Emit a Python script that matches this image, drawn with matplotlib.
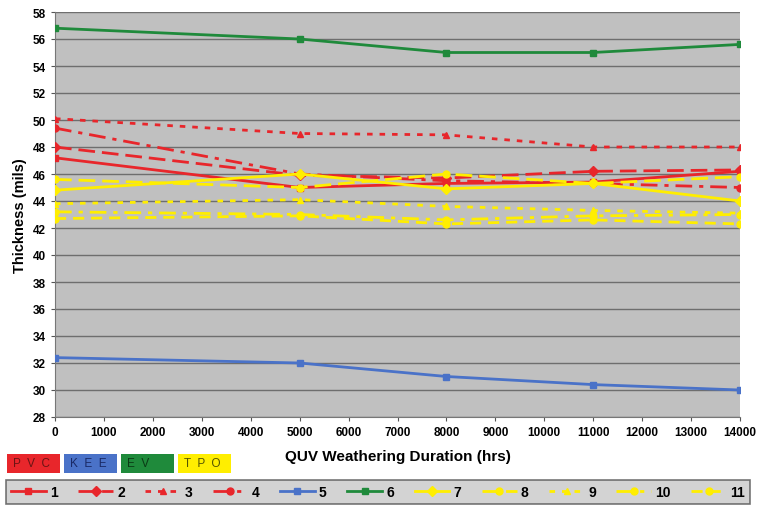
import matplotlib
matplotlib.use("Agg")
import matplotlib.pyplot as plt
from matplotlib.patches import Rectangle

plt.rcParams['font.family'] = ['Liberation Sans', 'DejaVu Sans']

hours = [0, 5000, 8000, 11000, 14000]
s1 = [47.2, 45.0, 45.3, 45.4, 46.2]
s2 = [48.0, 45.9, 45.7, 46.2, 46.3]
s3 = [50.1, 49.0, 48.9, 48.0, 48.0]
s4 = [49.4, 46.0, 45.5, 45.3, 45.0]
s5 = [32.4, 32.0, 31.0, 30.4, 30.0]
s6 = [56.8, 56.0, 55.0, 55.0, 55.6]
s7 = [44.8, 46.0, 44.9, 45.3, 44.0]
s8 = [45.6, 45.0, 46.0, 45.3, 45.8]
s9 = [43.8, 44.1, 43.6, 43.3, 43.1]
s10 = [43.2, 43.0, 42.6, 42.9, 43.0]
s11 = [42.7, 42.9, 42.3, 42.6, 42.3]
series_names = ['1', '2', '3', '4', '5', '6', '7', '8', '9', '10', '11']
material_names = ['PVC', 'KEE', 'EV', 'TPO']
xticks = list(range(0, 14001, 1000))
yticks = list(range(28, 59, 2))

RED = '#e8262b'
BLUE = '#4a72c8'
GREEN = '#1f8a3b'
YEL = '#ffee00'

styles = [
    (s1, RED, '-', 's'),
    (s2, RED, (0, (6, 2.5)), 'D'),
    (s3, RED, (0, (2, 2.5)), '^'),
    (s4, RED, (0, (6, 2.5, 1.5, 2.5)), 'o'),
    (s5, BLUE, '-', 's'),
    (s6, GREEN, '-', 's'),
    (s7, YEL, '-', 'D'),
    (s8, YEL, (0, (6, 2.5)), 'o'),
    (s9, YEL, (0, (2, 2.5)), '^'),
    (s10, YEL, (0, (6, 2.5, 1.5, 2.5)), 'o'),
    (s11, YEL, (0, (4, 2.5)), 'o'),
]

fig = plt.figure(figsize=(7.58, 5.10), dpi=100)
ax = fig.add_axes([55/758, 1 - 418/510, 685/758, 405/510])
ax.set_facecolor('#c0c0c0')
handles = []
for (vals, c, ls, m), name in zip(styles, series_names):
    h, = ax.plot(hours, vals, color=c, linestyle=ls, linewidth=2.0,
                 marker=m, markersize=5, markeredgecolor=c, markerfacecolor=c,
                 label=name, zorder=3)
    handles.append(h)

ax.set_xlim(0, 14000)
ax.set_ylim(28, 58)
ax.set_xticks(xticks)
ax.set_yticks(yticks)
ax.tick_params(labelsize=8.5, length=3, color='#555555')
for lab in ax.get_xticklabels() + ax.get_yticklabels():
    lab.set_fontweight('bold')
ax.grid(axis='y', color='#6e6e6e', linewidth=1.0, zorder=1)
ax.set_axisbelow(True)
for sp in ['top', 'right']:
    ax.spines[sp].set_visible(False)
for sp in ['left', 'bottom']:
    ax.spines[sp].set_color('#777777')
ax.set_ylabel('Thickness (mils)', fontsize=10.5, fontweight='bold')
ax.set_xlabel('QUV Weathering Duration (hrs)', fontsize=11, fontweight='bold', labelpad=8)

# material colour boxes
box_cols = [RED, BLUE, GREEN, YEL]
box_txt = ['#6a1414', '#1a2a66', '#0a3a15', '#555500']
x0 = 7
for name, c, tc in zip(material_names, box_cols, box_txt):
    fig.patches.append(Rectangle((x0/758, 1 - 474/510), 53/758, 19/510,
                                 transform=fig.transFigure, facecolor=c,
                                 edgecolor='none'))
    fig.text((x0 + 6)/758, 1 - 464.5/510, '  '.join(name),
             fontsize=8.5, color=tc, va='center', ha='left')
    x0 += 57

leg = fig.legend(handles=handles, loc='lower left', ncol=11, mode='expand',
                 bbox_to_anchor=(6/758, 1 - 505/510, 744/758, 26/510),
                 frameon=True, fontsize=10, handlelength=2.5, handletextpad=0.3,
                 columnspacing=0.8, borderpad=0.35, borderaxespad=0)
frame = leg.get_frame()
frame.set_facecolor('#c8c8c8')
frame.set_edgecolor('#555555')
frame.set_linewidth(1.2)
frame.set_boxstyle('square', pad=0)
for t in leg.get_texts():
    t.set_fontweight('bold')

fig.savefig('out.png', dpi=100)
